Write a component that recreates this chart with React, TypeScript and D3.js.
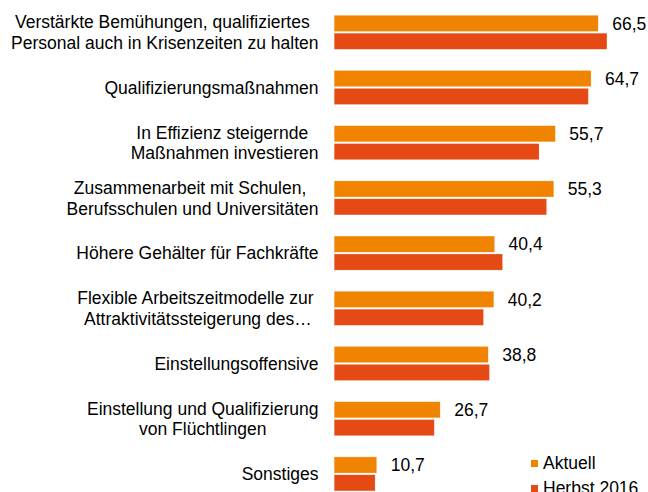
import React, { useEffect, useRef } from 'react';
import * as d3 from 'd3';

const W = 648, H = 492;

// category labels, already broken into lines like in the original
const categories = [
  ['Verstärkte Bemühungen, qualifiziertes ', 'Personal auch in Krisenzeiten zu halten'],
  ['Qualifizierungsmaßnahmen'],
  ['In Effizienz steigernde ', 'Maßnahmen investieren'],
  ['Zusammenarbeit mit Schulen, ', 'Berufsschulen und Universitäten'],
  ['Höhere Gehälter für Fachkräfte'],
  ['Flexible Arbeitszeitmodelle zur ', 'Attraktivitätssteigerung des…'],
  ['Einstellungsoffensive'],
  ['Einstellung und Qualifizierung', 'von Flüchtlingen'],
  ['Sonstiges'],
];
const aktuell = [66.5, 64.7, 55.7, 55.3, 40.4, 40.2, 38.8, 26.7, 10.7];
const herbst2016 = [68.7, 64.0, 51.6, 53.5, 42.4, 37.6, 39.1, 25.2, 10.3];
const seriesNames = ['Aktuell', 'Herbst 2016'];
const colors = ['#F08300', '#E54914'];

const font = '"Liberation Sans", Arial, sans-serif';
const fontSize = 17.5;

export default function App() {
  const ref = useRef<SVGSVGElement>(null);

  useEffect(() => {
    const svg = d3.select(ref.current);
    svg.selectAll('*').remove();

    const idx = categories.map((_, i) => i);
    const x = d3.scaleLinear().domain([0, 10]).range([334.2, 373.9]);
    const y = d3.scaleBand<number>().domain(idx).range([4.7, 501.5])
      .paddingInner(0.384).paddingOuter(0.192);
    const ys = d3.scaleBand<string>().domain(seriesNames).range([0, y.bandwidth()]).paddingInner(0.1);

    const rows = [aktuell, herbst2016];

    const g = svg.append('g');
    rows.forEach((vals, s) => {
      g.selectAll(null).data(vals).enter().append('rect')
        .attr('x', x(0))
        .attr('y', (_, i) => (y(i) as number) + (ys(seriesNames[s]) as number))
        .attr('width', d => x(d) - x(0))
        .attr('height', ys.bandwidth())
        .attr('fill', colors[s])
        .attr('stroke', '#fff')
        .attr('stroke-opacity', 0.35)
        .attr('stroke-width', 0.6);
    });

    // value labels only for the current series
    g.selectAll(null).data(aktuell).enter().append('text')
      .attr('x', d => x(d) + 14)
      .attr('y', (_, i) => (y(i) as number) + (ys('Aktuell') as number) + ys.bandwidth() / 2 + 6.2)
      .attr('font-family', font)
      .attr('font-size', fontSize)
      .attr('fill', '#000')
      .text(d => d.toFixed(1).replace('.', ','));

    // category labels: lines centred on each other, block right-aligned
    const right = 318.5, lh = 20.8;
    categories.forEach((lines, i) => {
      const cy = (y(i) as number) + y.bandwidth() / 2;
      const grp = g.append('g');
      const ts = lines.map((ln, j) => grp.append('text')
        .attr('font-family', font)
        .attr('font-size', fontSize)
        .attr('fill', '#000')
        .style('white-space', 'pre')
        .attr('text-anchor', 'middle')
        .attr('y', cy + (j - (lines.length - 1) / 2) * lh + 6.3)
        .text(ln));
      const maxW = d3.max(ts, t => (t.node() as SVGTextElement).getComputedTextLength()) || 0;
      ts.forEach(t => t.attr('x', right - maxW / 2));
    });

    // legend (second entry is cut by the bottom edge, as in the original)
    const lg = svg.append('g').attr('transform', 'translate(531,460)');
    seriesNames.forEach((n, s) => {
      lg.append('rect').attr('x', 0).attr('y', s * 25).attr('width', 7).attr('height', 7).attr('fill', colors[s]);
      lg.append('text').attr('x', 12).attr('y', s * 25 + 9)
        .attr('font-family', font).attr('font-size', fontSize).attr('fill', '#000').text(n);
    });
  }, []);

  return (
    <svg ref={ref} width={W} height={H}
      style={{ position: 'absolute', left: 0, top: 0, background: '#fff' }} />
  );
}
